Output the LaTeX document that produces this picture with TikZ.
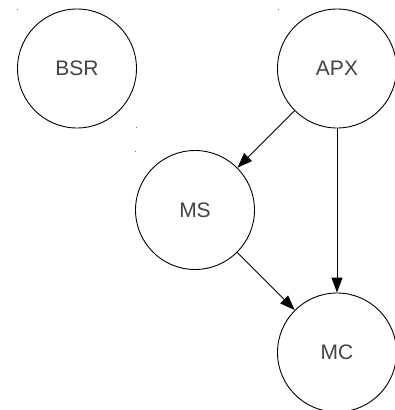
\documentclass[tikz,border=0pt]{standalone}
\usepackage{fontspec}
\setmainfont{Liberation Sans}
\usetikzlibrary{arrows.meta}
\definecolor{labelgray}{HTML}{444444}
\definecolor{dotgray}{HTML}{707070}
\tikzset{
  state/.style={circle, draw=black, line width=0.9pt, minimum size=119pt, inner sep=0pt,
    text=labelgray, font=\fontsize{21pt}{21pt}\selectfont},
  edge/.style={draw=black, line width=0.9pt, -{Triangle[length=15pt,width=11pt]}},
  speck/.style={fill=dotgray}
}
\begin{document}
\begin{tikzpicture}[x=1pt,y=-1pt]
  \useasboundingbox (0,0) rectangle (395,410);
  \clip (0,0) rectangle (395,410);
  \fill[white] (0,0) rectangle (395,410);

  % states
  \node[state] (bsr) at (77,68.5)  {BSR};
  \node[state] (apx) at (337,68.5) {APX};
  \node[state] (ms)  at (195,210)  {MS};
  \node[state] (mc)  at (337,352.5)  {MC};

  % transitions
  \draw[edge] (apx) -- (ms);
  \draw[edge] (apx) -- (mc);
  \draw[edge] (ms) -- (mc);

  % small specks at box corners
  \fill[speck] (16.5,8.5) rectangle (17.5,9.5);
  \fill[speck] (135.5,126.5) rectangle (136.5,127.5);
  \fill[speck] (134.5,151) rectangle (135.5,152);
  \fill[speck] (277.5,8.5) rectangle (278.5,9.5);
\end{tikzpicture}
\end{document}
